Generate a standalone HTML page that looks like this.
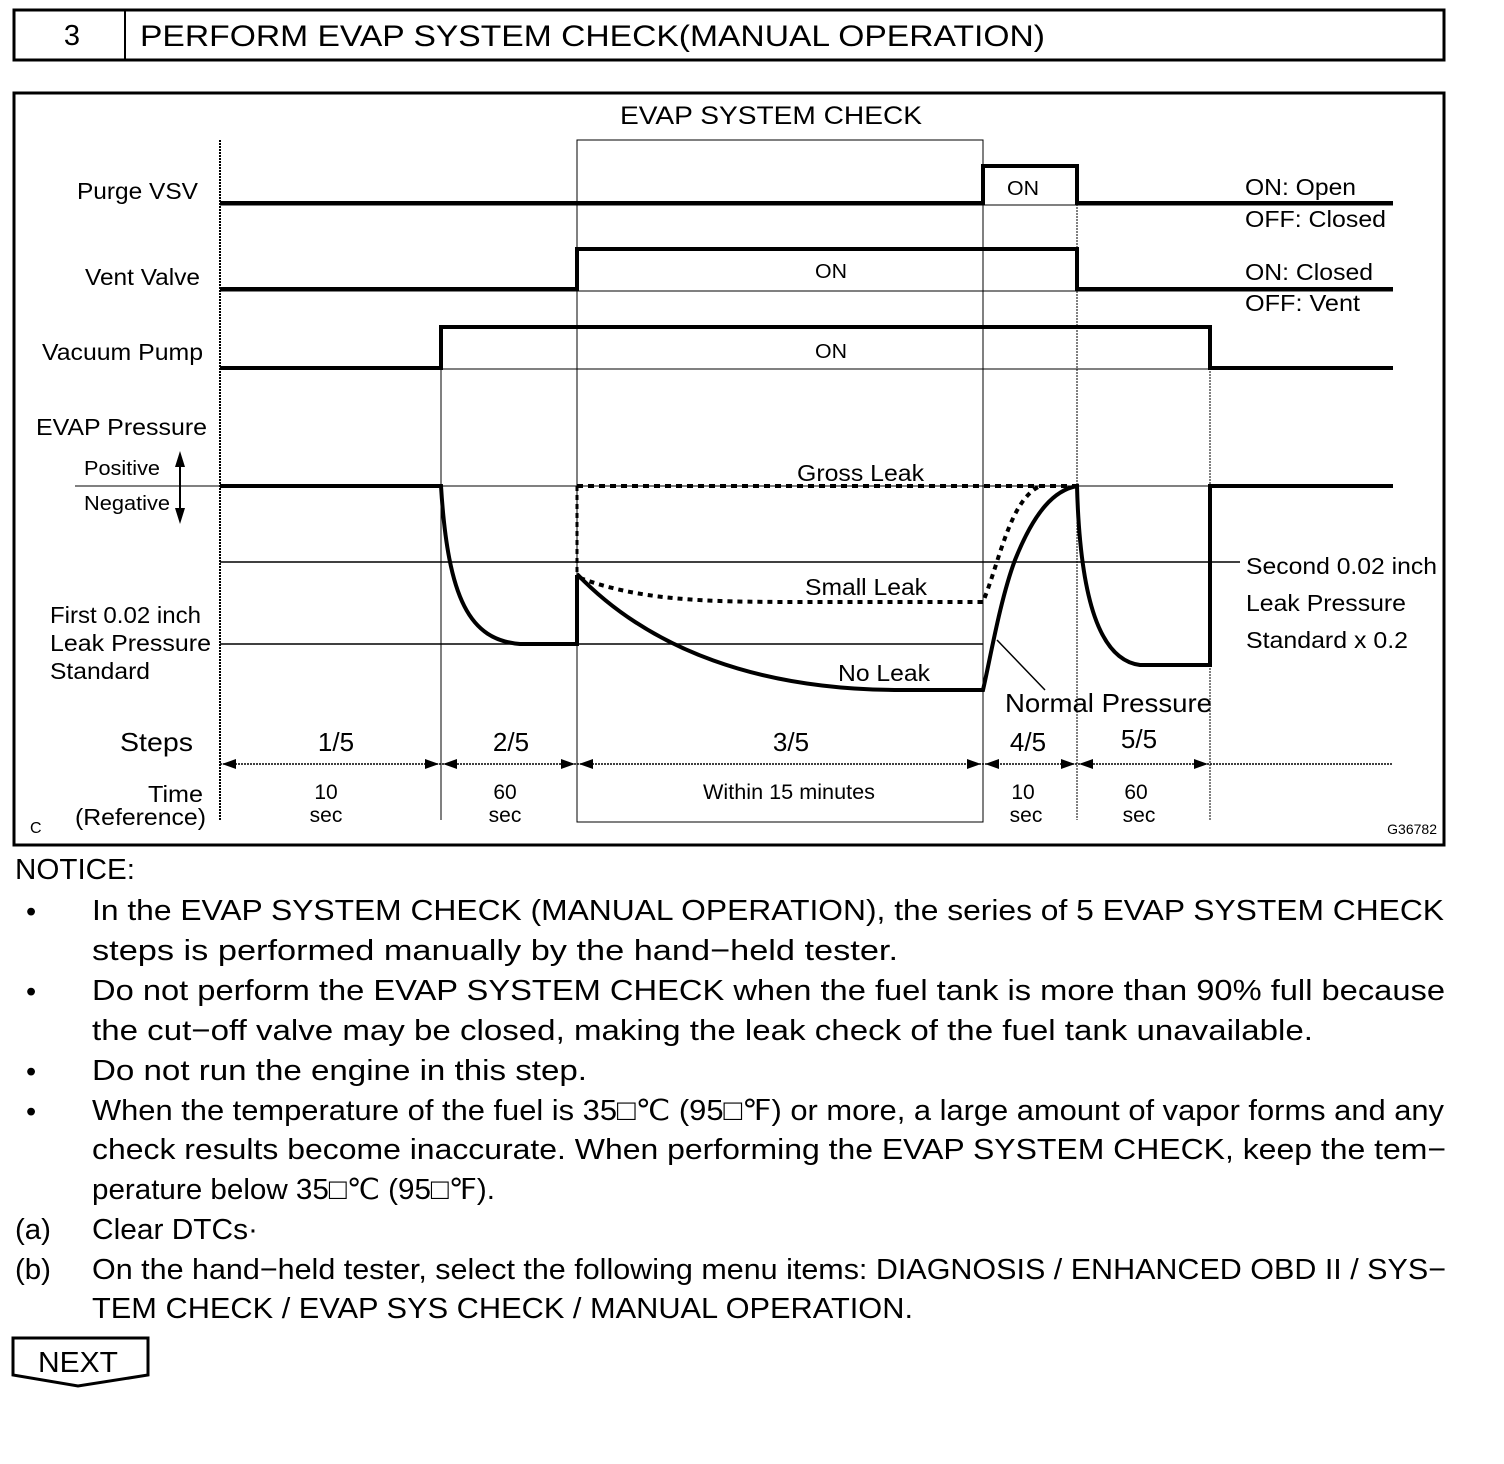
<!DOCTYPE html>
<html><head><meta charset="utf-8"><style>
html,body{margin:0;padding:0;background:#fff;}
svg{display:block;}
text{font-family:"Liberation Sans",Arial,sans-serif;fill:#000;}
</style></head><body>
<svg width="1504" height="1464" viewBox="0 0 1504 1464" xmlns="http://www.w3.org/2000/svg">
<!-- header -->
<rect x="14" y="10" width="1430" height="50" fill="none" stroke="#000" stroke-width="3"/>
<line x1="125" y1="10" x2="125" y2="60" stroke="#000" stroke-width="2"/>
<text x="72" y="45" font-size="29" text-anchor="middle">3</text>
<text x="140" y="46" font-size="30" textLength="905" lengthAdjust="spacingAndGlyphs">PERFORM EVAP SYSTEM CHECK(MANUAL OPERATION)</text>

<!-- chart box -->
<rect x="14" y="93" width="1430" height="752" fill="none" stroke="#000" stroke-width="3"/>
<rect x="577" y="140" width="406" height="682" fill="none" stroke="#000" stroke-width="1"/>
<text x="620" y="124" font-size="25" textLength="302" lengthAdjust="spacingAndGlyphs">EVAP SYSTEM CHECK</text>

<!-- verticals -->
<line x1="220" y1="140" x2="220" y2="820" stroke="#000" stroke-width="2" stroke-dasharray="2,1"/>
<line x1="441" y1="326" x2="441" y2="820" stroke="#000" stroke-width="1"/>
<line x1="1077" y1="165" x2="1077" y2="820" stroke="#000" stroke-width="1" stroke-dasharray="2,1"/>
<line x1="1210" y1="326" x2="1210" y2="820" stroke="#000" stroke-width="1" stroke-dasharray="2,1"/>

<!-- labels left -->
<g font-size="23" lengthAdjust="spacingAndGlyphs">
<text x="77" y="199" textLength="121" lengthAdjust="spacingAndGlyphs">Purge VSV</text>
<text x="85" y="285" textLength="115" lengthAdjust="spacingAndGlyphs">Vent Valve</text>
<text x="42" y="360" textLength="161" lengthAdjust="spacingAndGlyphs">Vacuum Pump</text>
<text x="36" y="435" textLength="171" lengthAdjust="spacingAndGlyphs">EVAP Pressure</text>
<text x="50" y="623" textLength="151" lengthAdjust="spacingAndGlyphs">First 0.02 inch</text>
<text x="50" y="651" textLength="161" lengthAdjust="spacingAndGlyphs">Leak Pressure</text>
<text x="50" y="679" textLength="100" lengthAdjust="spacingAndGlyphs">Standard</text>
<text x="148" y="802" textLength="55" lengthAdjust="spacingAndGlyphs">Time</text>
<text x="75" y="825" textLength="131" lengthAdjust="spacingAndGlyphs">(Reference)</text>
</g>
<g font-size="20">
<text x="84" y="475" textLength="76" lengthAdjust="spacingAndGlyphs">Positive</text>
<text x="84" y="510" textLength="86" lengthAdjust="spacingAndGlyphs">Negative</text>
</g>
<line x1="180" y1="455" x2="180" y2="520" stroke="#000" stroke-width="2"/>
<polygon points="175,467 185,467 180,451" fill="#000"/>
<polygon points="175,508 185,508 180,524" fill="#000"/>
<text x="120" y="751" font-size="26" textLength="73" lengthAdjust="spacingAndGlyphs">Steps</text>
<text x="30" y="833" font-size="16">C</text>
<text x="1437" y="834" font-size="14" text-anchor="end">G36782</text>

<!-- right labels -->
<g font-size="23">
<text x="1245" y="195" textLength="111" lengthAdjust="spacingAndGlyphs">ON: Open</text>
<text x="1245" y="227" textLength="141" lengthAdjust="spacingAndGlyphs">OFF: Closed</text>
<text x="1245" y="280" textLength="128" lengthAdjust="spacingAndGlyphs">ON: Closed</text>
<text x="1245" y="311" textLength="115" lengthAdjust="spacingAndGlyphs">OFF: Vent</text>
<text x="1246" y="574" textLength="191" lengthAdjust="spacingAndGlyphs">Second 0.02 inch</text>
<text x="1246" y="611" textLength="160" lengthAdjust="spacingAndGlyphs">Leak Pressure</text>
<text x="1246" y="648" textLength="162" lengthAdjust="spacingAndGlyphs">Standard x 0.2</text>
</g>

<!-- thin reference lines -->
<g stroke="#000" stroke-width="1">
<line x1="220" y1="205" x2="1393" y2="205"/>
<line x1="220" y1="291" x2="1393" y2="291"/>
<line x1="220" y1="369" x2="1393" y2="369"/>
<line x1="75" y1="486" x2="1393" y2="486"/>
<line x1="220" y1="562" x2="1240" y2="562" stroke-width="1.5"/>
<line x1="220" y1="644" x2="983" y2="644" stroke-width="1.5"/>
</g>

<!-- digital signals -->
<g fill="none" stroke="#000" stroke-width="4">
<polyline points="220,203 983,203 983,166 1077,166 1077,203 1393,203"/>
<polyline points="220,289 577,289 577,249 1077,249 1077,289 1393,289"/>
<polyline points="220,368 441,368 441,327 1210,327 1210,368 1393,368"/>
</g>
<g font-size="20">
<text x="1007" y="195" textLength="32" lengthAdjust="spacingAndGlyphs">ON</text>
<text x="815" y="278" textLength="32" lengthAdjust="spacingAndGlyphs">ON</text>
<text x="815" y="358" textLength="32" lengthAdjust="spacingAndGlyphs">ON</text>
</g>

<!-- EVAP pressure curves -->
<g fill="none" stroke="#000" stroke-width="4">
<path d="M220,486 L441,486 C448,600 470,640 520,644 L577,644 L577,575"/>
<path d="M577,574 C650,650 760,690 900,690 L983,690 C990,660 1000,600 1015,560 C1035,510 1055,490 1077,486 L1077,486 C1080,600 1100,660 1140,665 L1210,665 L1210,486 L1393,486"/>
<path d="M577,486 L1077,486" stroke-dasharray="6,5"/>
<path d="M577,486 L577,575" stroke-dasharray="5,4" stroke-width="3"/>
<path d="M580,578 C640,600 700,602 800,602 L983,602 C1000,560 1010,500 1040,486" stroke-dasharray="5,5"/>
</g>
<line x1="997" y1="640" x2="1045" y2="690" stroke="#000" stroke-width="1.5"/>
<g font-size="23">
<text x="797" y="481" textLength="127" lengthAdjust="spacingAndGlyphs">Gross Leak</text>
<text x="805" y="595" textLength="122" lengthAdjust="spacingAndGlyphs">Small Leak</text>
<text x="838" y="681" textLength="92" lengthAdjust="spacingAndGlyphs">No Leak</text>
<text x="1005" y="712" font-size="26" textLength="207" lengthAdjust="spacingAndGlyphs">Normal Pressure</text>
</g>

<!-- steps -->
<g font-size="26" text-anchor="middle">
<text x="336" y="751">1/5</text>
<text x="511" y="751">2/5</text>
<text x="791" y="751">3/5</text>
<text x="1028" y="751">4/5</text>
<text x="1139" y="748">5/5</text>
</g>
<line x1="220" y1="764" x2="1393" y2="764" stroke="#000" stroke-width="1.5" stroke-dasharray="2,1"/>
<g fill="#000">
<polygon points="222,764 236,759 236,769"/>
<polygon points="439,764 425,759 425,769"/>
<polygon points="443,764 457,759 457,769"/>
<polygon points="575,764 561,759 561,769"/>
<polygon points="579,764 593,759 593,769"/>
<polygon points="981,764 967,759 967,769"/>
<polygon points="985,764 999,759 999,769"/>
<polygon points="1075,764 1061,759 1061,769"/>
<polygon points="1079,764 1093,759 1093,769"/>
<polygon points="1208,764 1194,759 1194,769"/>
</g>
<g font-size="21" text-anchor="middle">
<text x="326" y="799">10</text><text x="326" y="822">sec</text>
<text x="505" y="799">60</text><text x="505" y="822">sec</text>
<text x="1023" y="799">10</text><text x="1026" y="822">sec</text>
<text x="1136" y="799">60</text><text x="1139" y="822">sec</text>
</g>
<text x="703" y="799" font-size="21" textLength="172" lengthAdjust="spacingAndGlyphs">Within 15 minutes</text>

<!-- notice text -->
<g font-size="29">
<text x="15" y="879" textLength="120" lengthAdjust="spacingAndGlyphs">NOTICE:</text>
<text x="26" y="921">•</text>
<text x="92" y="920" textLength="1352" lengthAdjust="spacingAndGlyphs">In the EVAP SYSTEM CHECK (MANUAL OPERATION), the series of 5 EVAP SYSTEM CHECK</text>
<text x="92" y="960" textLength="806" lengthAdjust="spacingAndGlyphs">steps is performed manually by the hand−held tester.</text>
<text x="26" y="1001">•</text>
<text x="92" y="1000" textLength="1353" lengthAdjust="spacingAndGlyphs">Do not perform the EVAP SYSTEM CHECK when the fuel tank is more than 90% full because</text>
<text x="92" y="1040" textLength="1221" lengthAdjust="spacingAndGlyphs">the cut−off valve may be closed, making the leak check of the fuel tank unavailable.</text>
<text x="26" y="1081">•</text>
<text x="92" y="1080" textLength="495" lengthAdjust="spacingAndGlyphs">Do not run the engine in this step.</text>
<text x="26" y="1121">•</text>
<text x="92" y="1120" textLength="1352" lengthAdjust="spacingAndGlyphs">When the temperature of the fuel is 35□℃ (95□℉) or more, a large amount of vapor forms and any</text>
<text x="92" y="1159" textLength="1354" lengthAdjust="spacingAndGlyphs">check results become inaccurate. When performing the EVAP SYSTEM CHECK, keep the tem−</text>
<text x="92" y="1199" textLength="403" lengthAdjust="spacingAndGlyphs">perature below 35□℃ (95□℉).</text>
<text x="15" y="1239" textLength="36" lengthAdjust="spacingAndGlyphs">(a)</text>
<text x="92" y="1239" textLength="166" lengthAdjust="spacingAndGlyphs">Clear DTCs·</text>
<text x="15" y="1279" textLength="36" lengthAdjust="spacingAndGlyphs">(b)</text>
<text x="92" y="1279" textLength="1354" lengthAdjust="spacingAndGlyphs">On the hand−held tester, select the following menu items: DIAGNOSIS / ENHANCED OBD II / SYS−</text>
<text x="92" y="1318" textLength="821" lengthAdjust="spacingAndGlyphs">TEM CHECK / EVAP SYS CHECK / MANUAL OPERATION.</text>
</g>
<polygon points="13,1338 148,1338 148,1375 78,1386 13,1375" fill="none" stroke="#000" stroke-width="3"/>
<text x="38" y="1372" font-size="29" textLength="80" lengthAdjust="spacingAndGlyphs">NEXT</text>
</svg>
</body></html>
